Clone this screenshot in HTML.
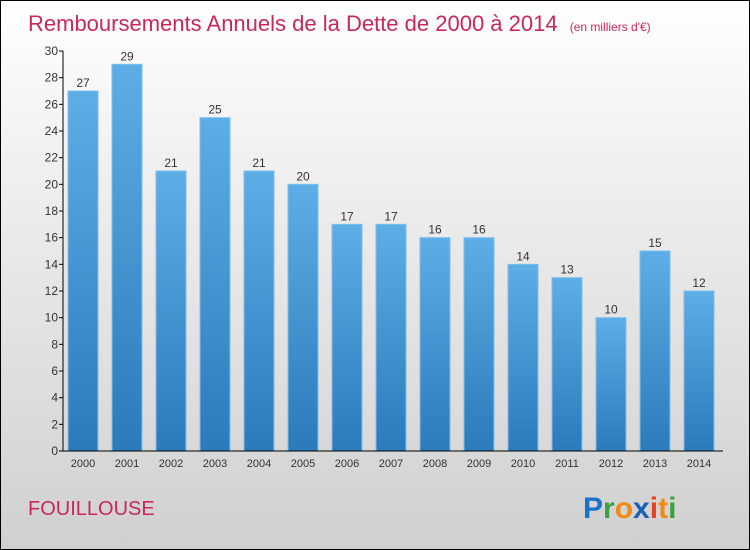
<!DOCTYPE html>
<html><head><meta charset="utf-8"><style>
body{margin:0}
#c{width:750px;height:550px;position:relative;box-sizing:border-box;border:1px solid #000;background:linear-gradient(#ffffff,#f0f0f0 30%,#d0d0d0);font-family:"Liberation Sans",sans-serif;overflow:hidden}
</style></head><body>
<div id="c">
<svg width="750" height="550" style="position:absolute;left:0;top:0" id="s">
<defs><linearGradient id="g" x1="0" y1="0" x2="0" y2="1"><stop offset="0" stop-color="#5dade6"/><stop offset="1" stop-color="#2b7bbb"/></linearGradient></defs>
<text x="27" y="30" font-size="22" fill="#c8285a">Remboursements Annuels de la Dette de 2000 à 2014 <tspan font-size="12" dx="6">(en milliers d'€)</tspan></text>
<text x="27" y="514" font-size="20" fill="#c8285a">FOUILLOUSE</text>
<g font-size="30" font-weight="bold">
<text x="582" y="517" fill="#1a73c8">P<tspan fill="#3aa040">r</tspan><tspan fill="#f08a10">o</tspan><tspan fill="#1a5fb4">x</tspan><tspan fill="#e84020">i</tspan><tspan fill="#f08a10">t</tspan><tspan fill="#3aa040">i</tspan></text>
</g>
<g id="plot"></g>
</svg>
</div>
<script>
const categories=["2000","2001","2002","2003","2004","2005","2006","2007","2008","2009","2010","2011","2012","2013","2014"];
const values=[27,29,21,25,21,20,17,17,16,16,14,13,10,15,12];
const yTicks=[0,2,4,6,8,10,12,14,16,18,20,22,24,26,28,30];
const NS="http://www.w3.org/2000/svg";
const g=document.getElementById('plot');
const x0=62,x1=722,y0=450,y1=50,ymax=30;
const slot=(x1-x0)/categories.length;
const ys=v=>y0-(v/ymax)*(y0-y1);
function el(t,a,txt){const e=document.createElementNS(NS,t);for(const k in a)e.setAttribute(k,a[k]);if(txt!=null)e.textContent=txt;g.appendChild(e);return e;}
values.forEach((v,i)=>{
 const bx=x0+5+slot*i;
 const r=el('rect',{x:bx,y:ys(v),width:30,height:y0-ys(v),fill:'url(#g)',stroke:'#7cc0ee','stroke-width':1});
 
 
 const t=el('text',{x:bx+15,y:ys(v)-4,'text-anchor':'middle','font-size':12,fill:'#333'},v);
 
 
 const c=el('text',{x:bx+15,y:466,'text-anchor':'middle','font-size':11,fill:'#333'},categories[i]);
 
 
});
yTicks.forEach(v=>{
 const y=ys(v);
 const l=el('line',{x1:x0-4,x2:x0,y1:y,y2:y,stroke:'#000'});
 
 
 const t=el('text',{x:x0-5,y:y+4,'text-anchor':'end','font-size':12,fill:'#333'},v);
 
 
});
const ya=el('line',{x1:x0,x2:x0,y1:y1,y2:y0,stroke:'#000'});


const xa=el('line',{x1:x0,x2:x1,y1:y0,y2:y0,stroke:'#000'});


</script>
</body></html>
